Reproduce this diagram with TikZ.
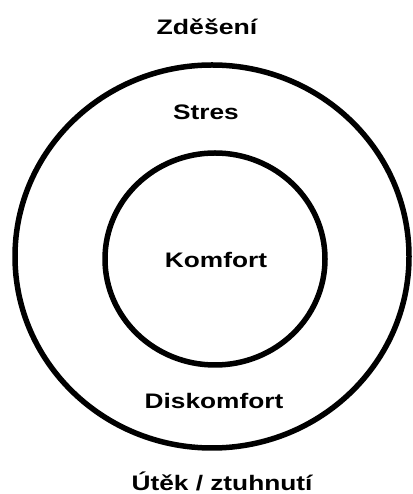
\documentclass[tikz,border=0pt]{standalone}
\usepackage{fontspec}
\setmainfont{Liberation Sans}
\begin{document}
\begin{tikzpicture}[x=1pt,y=1pt,
  lbl/.style={font=\bfseries\fontsize{21}{24}\selectfont, anchor=base, inner sep=0pt},
  ring/.style={draw=black, line width=5.5pt}]
\useasboundingbox (0,0) rectangle (412,494);
\fill[white] (0,0) rectangle (412,494);
\draw[ring] (212,237.5) ellipse [x radius=197, y radius=191.5];
\draw[ring] (215,235) ellipse [x radius=110, y radius=106];
\node[lbl] (zdeseni) at (207,459) {\scalebox{1.27}[1]{Zděšení}};
\node[lbl] (stres) at (206,374) {\scalebox{1.25}[1]{Stres}};
\node[lbl] (komfort) at (216,226) {\scalebox{1.25}[1]{Komfort}};
\node[lbl] (diskomfort) at (214,85) {\scalebox{1.25}[1]{Diskomfort}};
\node[lbl] (utek) at (222,4) {\scalebox{1.25}[1]{Útěk / ztuhnutí}};
\end{tikzpicture}
\end{document}
